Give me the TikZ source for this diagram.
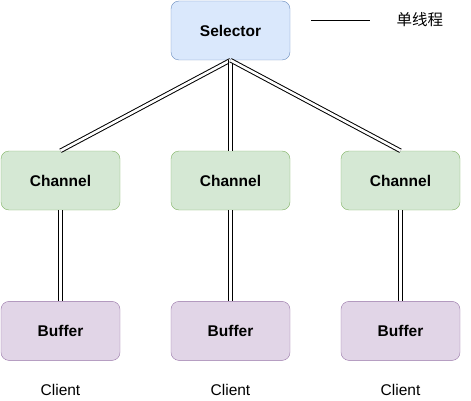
\documentclass[tikz,border=0pt]{standalone}
\usepackage{fontspec}
\setmainfont{Liberation Sans}
\newfontfamily\cjk{Noto Sans CJK SC}
\usetikzlibrary{positioning}
\definecolor{selfill}{HTML}{DAE8FC}
\definecolor{seldraw}{HTML}{6C8EBF}
\definecolor{chfill}{HTML}{D5E8D4}
\definecolor{chdraw}{HTML}{82B366}
\definecolor{buffill}{HTML}{E1D5E7}
\definecolor{bufdraw}{HTML}{9673A6}
\tikzset
{
    basenode/.style = {rectangle, rounded corners=8pt, align=center, minimum width=119pt, minimum height=59pt, font=\fontsize{15.5}{18}\selectfont\bfseries},
    selnode/.style  = {basenode, draw=seldraw, fill=selfill},
    channode/.style = {basenode, draw=chdraw, fill=chfill},
    bufnode/.style  = {basenode, draw=bufdraw, fill=buffill},
    clientlabel/.style = {font=\fontsize{15.5}{18}\selectfont},
    thread/.style   = {double, double distance=2.6pt, line width=1pt}
}
\begin{document}
\begin{tikzpicture}[x=1pt, y=-1pt]
	\useasboundingbox (0,0) rectangle (471,401);
	\node[selnode] (sel) at (230.5,30.5) {Selector};
	% channels and buffers
	\node[channode] (ch1) at (60.5,180.5) {Channel};
	\node[channode] (ch2) at (230.5,180.5) {Channel};
	\node[channode] (ch3) at (400.5,180.5) {Channel};
	\node[bufnode, below=91pt of ch1] (buf1) {Buffer};
	\node[bufnode, below=91pt of ch2] (buf2) {Buffer};
	\node[bufnode, below=91pt of ch3] (buf3) {Buffer};
	\node[clientlabel] (cl1) at (60.5,390) {Client};
	\node[clientlabel] (cl2) at (230.5,390) {Client};
	\node[clientlabel] (cl3) at (400.5,390) {Client};
	% legend
	\coordinate (lega) at (311,20);
	\coordinate (legb) at (370,20);
	\draw[line width=0.8pt] (lega) -- (legb);
	\node[font=\cjk\fontsize{15.5}{18}\selectfont, anchor=west] (leg) at (393,20) {单线程};
	% connectors
	\foreach \i in {1,2,3}
	{
		\draw[thread] (sel.south) -- (ch\i.north);
		\draw[thread] (ch\i.south) -- (buf\i.north);
	}
\end{tikzpicture}
\end{document}
